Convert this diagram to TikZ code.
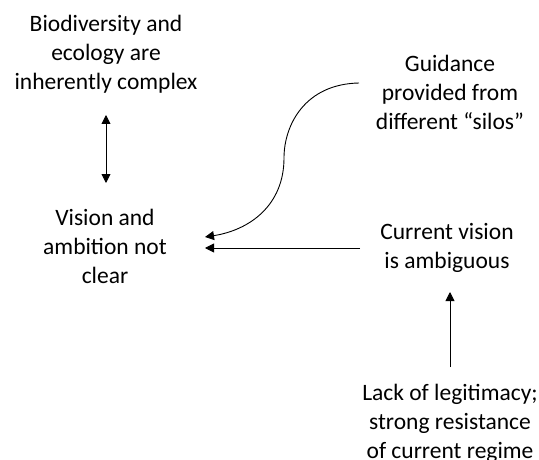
\documentclass[tikz,border=0pt]{standalone}
\usepackage{fontspec}
\setmainfont{Carlito}
\usetikzlibrary{arrows.meta}
\begin{document}
\begin{tikzpicture}[x=1pt,y=-1pt,
  label/.style={align=center,inner sep=0pt,
    font=\fontsize{23.5pt}{29pt}\selectfont},
  link/.style={line width=0.9pt,-{Triangle[length=9pt,width=9pt]}},
  twoway/.style={line width=0.9pt,{Triangle[length=9pt,width=9pt]}-{Triangle[length=9pt,width=9pt]}}]
  \useasboundingbox[fill=white] (0,0) rectangle (539,460);

  % statements
  \node[label] (complex) at (106,54) {Biodiversity and\\ecology are\\inherently complex};
  \node[label] (vision) at (105,246) {Vision and\\ambition not\\clear};
  \node[label] (silos) at (450,92) {Guidance\\provided from\\different “silos”};
  \node[label] (ambig) at (447,248) {Current vision\\is ambiguous};
  \node[label] (legit) at (450,423) {Lack of legitimacy;\\strong resistance\\of current regime};

  % connector end points
  \coordinate (cplxS) at (106,115);
  \coordinate (visN) at (106,183);
  \coordinate (silosW) at (359,83);
  \coordinate (visE1) at (205,237);
  \coordinate (ambW) at (360,248);
  \coordinate (visE2) at (205,248);
  \coordinate (legN) at (450,367);
  \coordinate (ambS) at (450,292);

  % connectors
  \draw[twoway] (cplxS) -- (visN);
  \draw[link] (silosW) .. controls (305,84) and (284,125) .. (284,158)
                       .. controls (284,205) and (250,230) .. (visE1);
  \draw[link] (ambW) -- (visE2);
  \draw[link] (legN) -- (ambS);
\end{tikzpicture}
\end{document}
